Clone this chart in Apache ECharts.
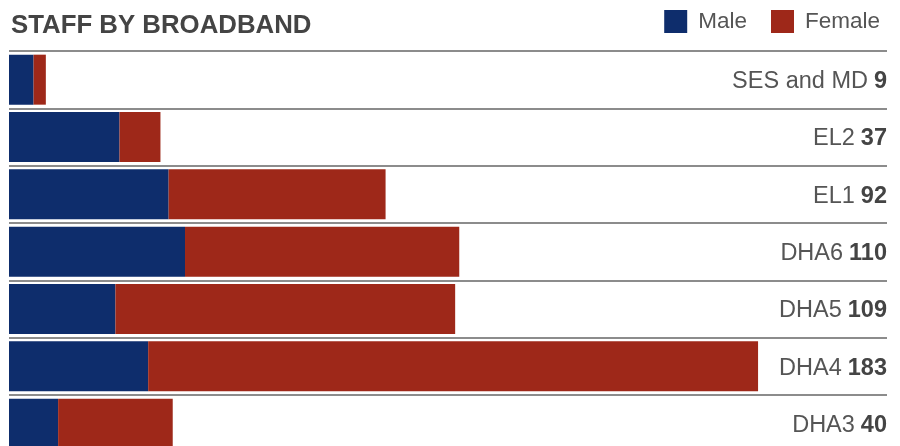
<!DOCTYPE html>
<html>
<head>
<meta charset="utf-8">
<script src="https://cdn.jsdelivr.net/npm/echarts@6/dist/echarts.min.js"></script>
<style>
  html, body { margin: 0; padding: 0; background: #fff; overflow: hidden; }
  #chart { width: 900px; height: 460px; }
</style>
</head>
<body>
<div id="chart"></div>
<script>
const categories = ['SES and MD', 'EL2', 'EL1', 'DHA6', 'DHA5', 'DHA4', 'DHA3'];
const male = [6, 27, 39, 43, 26, 34, 12];
const female = [3, 10, 53, 67, 83, 149, 28];
const totals = male.map((m, i) => m + female[i]);

const chart = echarts.init(document.getElementById('chart'));

const option = {
  backgroundColor: '#fff',
  animation: false,
  title: {
    text: 'STAFF BY BROADBAND',
    left: 6,
    top: 8,
    textStyle: {
      fontFamily: 'Liberation Sans',
      fontSize: 25.8,
      fontWeight: 'bold',
      color: '#444'
    }
  },
  legend: {
    right: 15,
    top: 5,
    itemWidth: 23,
    itemHeight: 23,
    itemGap: 24,
    icon: 'rect',
    data: ['Male', 'Female'],
    textStyle: {
      fontFamily: 'Liberation Sans',
      fontSize: 22.5,
      color: '#555',
      padding: [0, 0, 0, 6]
    }
  },
  grid: {
    left: 9,
    right: 13,
    top: 51,
    height: 401.3
  },
  xAxis: {
    type: 'value',
    min: 0,
    max: 214.5,
    show: false
  },
  yAxis: {
    type: 'category',
    data: categories,
    inverse: true,
    position: 'right',
    axisLine: { show: false },
    axisTick: { show: false },
    splitLine: {
      show: true,
      lineStyle: { color: '#666', width: 1.5 }
    },
    axisLabel: {
      inside: true,
      margin: 0,
      formatter: (value, idx) => '{n|' + value + '}{t|' + totals[idx] + '}',
      rich: {
        n: { fontFamily: 'Liberation Sans', fontSize: 23.5, color: '#555', padding: [4, 0, 0, 0] },
        t: { fontFamily: 'Liberation Sans', fontSize: 23.5, fontWeight: 'bold', color: '#444', padding: [4, 0, 0, 6] }
      }
    }
  },
  series: [
    {
      name: 'Male',
      type: 'bar',
      stack: 'staff',
      barWidth: 50,
      data: male,
      itemStyle: { color: '#0e2d6c' }
    },
    {
      name: 'Female',
      type: 'bar',
      stack: 'staff',
      barWidth: 50,
      data: female,
      itemStyle: { color: '#9e2819' }
    }
  ]
};

chart.setOption(option);
</script>
</body>
</html>
